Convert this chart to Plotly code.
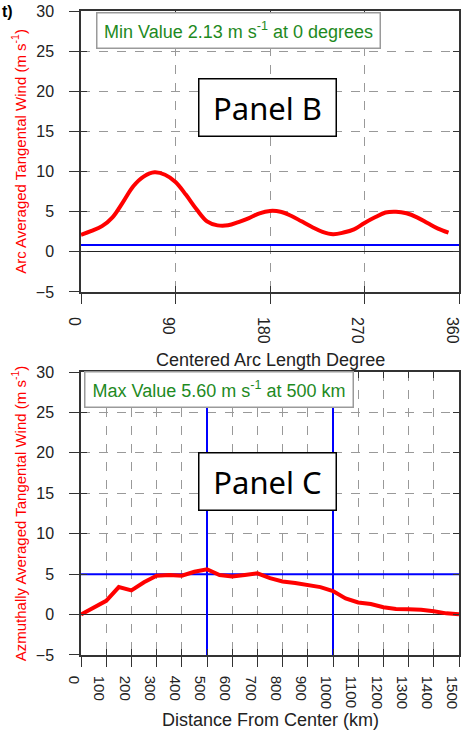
import plotly.graph_objects as go

# ---------------- data ----------------
# Panel B: arc averaged tangential wind vs centered arc length degree
arc_deg = [0, 10, 20, 30, 40, 50, 60, 70, 80, 90, 100, 110, 120, 130, 140, 150, 160, 170,
           180, 190, 200, 210, 220, 230, 240, 250, 260, 270, 280, 290, 300, 310, 320, 330, 340, 350]
arc_wind = [2.13, 2.6, 3.2, 4.3, 6.2, 8.2, 9.4, 9.9, 9.6, 8.7, 7.1, 5.3, 3.8, 3.3, 3.3, 3.7, 4.2, 4.8,
            5.1, 5.0, 4.5, 3.8, 3.1, 2.5, 2.2, 2.4, 2.8, 3.6, 4.3, 4.9, 5.0, 4.8, 4.3, 3.6, 2.9, 2.4]
arc_ref_x = [0, 360]
arc_ref_y = [0.85, 0.85]
arc_ticks = [0, 90, 180, 270, 360]

# Panel C: azimuthally averaged tangential wind vs distance from center
dist_km = [0, 50, 100, 150, 200, 250, 300, 350, 400, 450, 500, 550, 600, 650, 700, 750, 800,
           850, 900, 950, 1000, 1050, 1100, 1150, 1200, 1250, 1300, 1350, 1400, 1450, 1500]
azi_wind = [0.0, 0.8, 1.7, 3.4, 3.0, 4.0, 4.8, 4.9, 4.8, 5.3, 5.6, 4.9, 4.7, 4.9, 5.1, 4.5, 4.1,
            3.9, 3.7, 3.4, 2.9, 2.0, 1.5, 1.3, 0.9, 0.7, 0.65, 0.6, 0.4, 0.15, 0.05]
azi_ref_level = 5.0
azi_ref_dists = [500, 1000]
dist_ticks = list(range(0, 1501, 100))

y_range = [-5, 30]
y_ticks = [-5, 0, 5, 10, 15, 20, 25, 30]

min_text = "Min Value 2.13 m s<sup>-1</sup> at 0 degrees"
max_text = "Max Value 5.60 m s<sup>-1</sup> at 500 km"
top_ytitle = "Arc Averaged Tangental Wind (m s<sup>-1</sup>)"
bot_ytitle = "Azmuthally Averaged Tangental Wind (m s<sup>-1</sup>)"

# ---------------- figure ----------------
RED = "#ff0000"
BLUE = "#0000ff"
GREEN = "#1e8a1e"
FONT = "Liberation Sans"

fig = go.Figure()

fig.add_trace(go.Scatter(x=arc_ref_x, y=arc_ref_y, mode="lines",
                         line=dict(color=BLUE, width=2), xaxis="x", yaxis="y", hoverinfo="skip"))
fig.add_trace(go.Scatter(x=arc_deg, y=arc_wind, mode="lines", line_shape="spline",
                         line=dict(color=RED, width=4), xaxis="x", yaxis="y"))

fig.add_trace(go.Scatter(x=[0, 1500], y=[azi_ref_level, azi_ref_level], mode="lines",
                         line=dict(color=BLUE, width=2), xaxis="x2", yaxis="y2", hoverinfo="skip"))
for d in azi_ref_dists:
    fig.add_trace(go.Scatter(x=[d, d], y=y_range, mode="lines",
                             line=dict(color=BLUE, width=2), xaxis="x2", yaxis="y2", hoverinfo="skip"))
fig.add_trace(go.Scatter(x=dist_km, y=azi_wind, mode="lines",
                         line=dict(color=RED, width=4), xaxis="x2", yaxis="y2"))

# invisible traces to activate inside-tick overlay axes
fig.add_trace(go.Scatter(x=[None], y=[None], xaxis="x3", yaxis="y3", showlegend=False, hoverinfo="skip"))
fig.add_trace(go.Scatter(x=[None], y=[None], xaxis="x4", yaxis="y4", showlegend=False, hoverinfo="skip"))

top_dom = [0.5637, 1.0]
bot_dom = [0.0, 0.4394]

common_ax = dict(showline=True, linecolor="#333333", linewidth=1.5, mirror=True,
                 ticks="outside", ticklen=10, tickwidth=1.2, tickcolor="#333333",
                 showgrid=True, gridcolor="#999999", griddash="dash", gridwidth=1,
                 ticklabeloverflow="allow",
                 tickfont=dict(family=FONT, size=16, color="#222222"))

inside_ax = dict(ticks="inside", ticklen=6, tickcolor="#333333", tickwidth=1.2, mirror="ticks",
                 showline=False, showgrid=False, zeroline=False, showticklabels=False)

fig.update_layout(
    width=465, height=732,
    margin=dict(l=81, r=6, t=11, b=77, autoexpand=False),
    paper_bgcolor="white", plot_bgcolor="white",
    showlegend=False,
    xaxis=dict(common_ax, domain=[0, 1], anchor="y", range=[0, 360], tickvals=arc_ticks,
               tickangle=90, zeroline=False, ticklabelstandoff=10, ticklabelshift=-7),
    yaxis=dict(common_ax, domain=top_dom, anchor="x", range=y_range, tickvals=y_ticks,
               zeroline=True, zerolinecolor="#222222", zerolinewidth=1.2, ticklabelstandoff=12,
               title=dict(text=top_ytitle, font=dict(family=FONT, size=15, color=RED), standoff=6)),
    xaxis2=dict(common_ax, domain=[0, 1], anchor="y2", range=[0, 1500], tickvals=dist_ticks,
                tickangle=90, zeroline=False, ticklabelstandoff=6, ticklabelshift=-7,
                tickfont=dict(family=FONT, size=15, color="#222222")),
    yaxis2=dict(common_ax, domain=bot_dom, anchor="x2", range=y_range, tickvals=y_ticks,
                zeroline=True, zerolinecolor="#222222", zerolinewidth=1.2, ticklabelstandoff=12,
                title=dict(text=bot_ytitle, font=dict(family=FONT, size=15, color=RED), standoff=6)),
    xaxis3=dict(inside_ax, overlaying="x", anchor="y", range=[0, 360], tickvals=arc_ticks),
    yaxis3=dict(inside_ax, overlaying="y", anchor="x", range=y_range, tickvals=y_ticks),
    xaxis4=dict(inside_ax, overlaying="x2", anchor="y2", range=[0, 1500], tickvals=dist_ticks),
    yaxis4=dict(inside_ax, overlaying="y2", anchor="x2", range=y_range, tickvals=y_ticks),
)

ann = []
# value boxes
ann.append(dict(text=min_text, x=0.4167, y=0.969, xref="paper", yref="paper", showarrow=False,
                xanchor="center", yanchor="middle",
                font=dict(family=FONT, size=18, color=GREEN), bgcolor="white",
                bordercolor="#9a9a9a", borderwidth=1.5, borderpad=3, width=276, height=28))
ann.append(dict(text=max_text, x=0.365, y=0.4115, xref="paper", yref="paper", showarrow=False,
                xanchor="center", yanchor="middle",
                font=dict(family=FONT, size=18, color=GREEN), bgcolor="white",
                bordercolor="#9a9a9a", borderwidth=1.5, borderpad=3, width=261, height=28))
# panel labels
ann.append(dict(text="Panel B", x=0.4934, y=0.8494, xref="paper", yref="paper", showarrow=False,
                xanchor="center", yanchor="middle",
                font=dict(family="Noto Sans", size=31, color="black"), bgcolor="white",
                bordercolor="black", borderwidth=1.5, borderpad=1, width=134, height=54))
ann.append(dict(text="Panel C", x=0.4934, y=0.2694, xref="paper", yref="paper", showarrow=False,
                xanchor="center", yanchor="middle",
                font=dict(family="Noto Sans", size=31, color="black"), bgcolor="white",
                bordercolor="black", borderwidth=1.5, borderpad=1, width=134, height=54))
# x axis titles
ann.append(dict(text="Centered Arc Length Degree", x=0.5, y=0.458, xref="paper", yref="paper",
                xanchor="center", yanchor="middle",
                showarrow=False, font=dict(family=FONT, size=18, color="#222222")))
ann.append(dict(text="Distance From Center (km)", x=0.5, y=-0.1009, xref="paper", yref="paper",
                xanchor="center", yanchor="middle",
                showarrow=False, font=dict(family=FONT, size=18, color="#222222")))
# corner label
ann.append(dict(text="<b>t)</b>", x=-0.2143, y=1.0, xref="paper", yref="paper", xanchor="left",
                yanchor="middle", showarrow=False, font=dict(family=FONT, size=16, color="black")))
fig.update_layout(annotations=ann)

fig.write_html("out.html", config={"displayModeBar": False},
               post_script="document.body.style.margin='0';document.body.style.padding='0';")
